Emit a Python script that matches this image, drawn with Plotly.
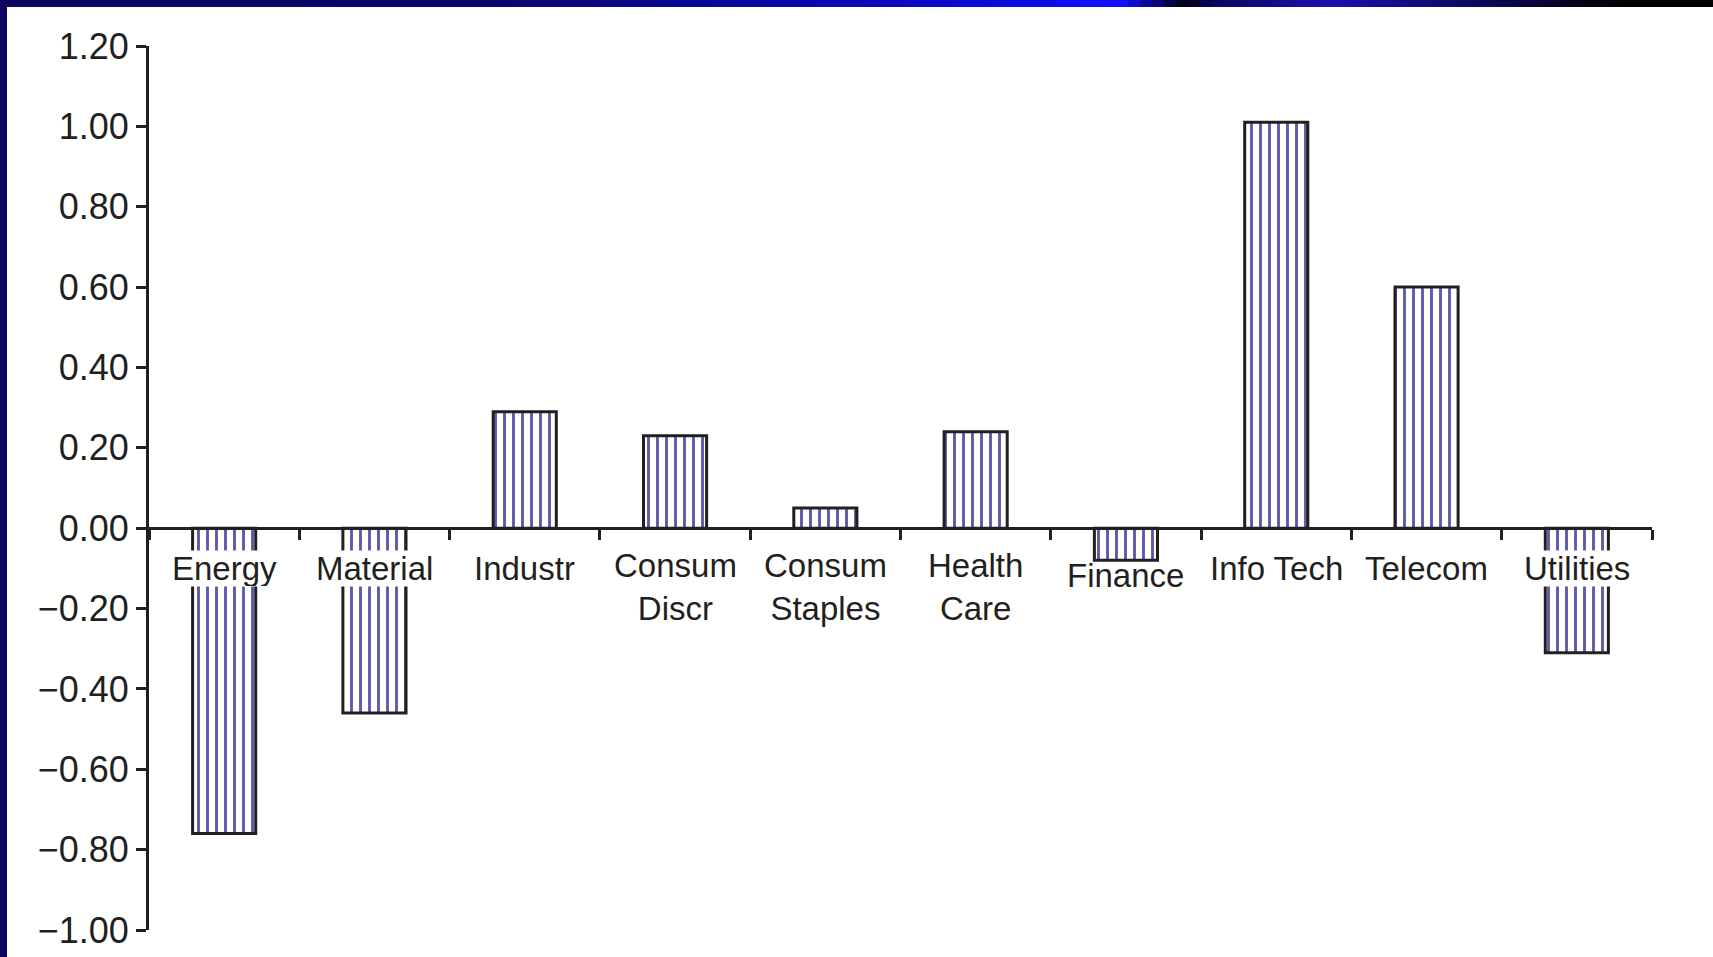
import plotly.graph_objects as go

categories = ["Energy", "Material", "Industr", "Consum<br>Discr", "Consum<br>Staples",
              "Health<br>Care", "Finance", "Info Tech", "Telecom", "Utilities"]
values = [-0.76, -0.46, 0.29, 0.23, 0.05, 0.24, -0.08, 1.01, 0.60, -0.31]
y_ticks = [-1.0, -0.8, -0.6, -0.4, -0.2, 0.0, 0.2, 0.4, 0.6, 0.8, 1.0, 1.2]

W, H = 1713, 957
ML, MR, MT, MB = 149, 61, 46, 27
YMIN, YMAX = -1.0, 1.2
INK = "#231f20"
BAR_BLUE = "#5a5aaa"

fig = go.Figure()
fig.add_trace(go.Bar(
    x=list(range(len(categories))),
    y=values,
    width=0.42,
    marker=dict(
        color="white",
        line=dict(color=INK, width=3),
        pattern=dict(shape="|", fgcolor=BAR_BLUE, bgcolor="white", size=9,
                     solidity=0.32, fgopacity=1),
    ),
    hoverinfo="skip",
))

# category labels as annotations with white background (they overlap bars)
annotations = []
for i, (cat, v) in enumerate(zip(categories, values)):
    two_line = "<br>" in cat
    shift = -18 if two_line else -22
    bg = "white"
    if cat == "Finance":
        shift = -29
        bg = "rgba(0,0,0,0)"
    ann = dict(
        x=i, y=0, xref="x", yref="y", text=cat, showarrow=False,
        yanchor="top", xanchor="center", yshift=shift,
        font=dict(family="Liberation Sans, Arial, sans-serif", size=33, color=INK),
        bgcolor=bg, borderpad=0,
    )
    if not two_line:
        ann["height"] = 35
    annotations.append(ann)

# decorative frame: gradient strip at the top, navy strip at the left
pw = W - ML - MR
ph = H - MT - MB
def px_to_paper_x(px):
    return (px - ML) / pw
def px_to_paper_y(py):
    return 1 - (py - MT) / ph

stops = [(0, (10, 6, 96)), (500, (10, 6, 110)), (900, (10, 8, 190)), (1120, (16, 16, 255)),
         (1185, (0, 0, 20)), (1210, (10, 6, 90)), (1330, (26, 16, 176)),
         (1500, (12, 6, 80)), (1620, (0, 0, 0)), (1713, (0, 0, 0))]
def col_at(x):
    for (x0, c0), (x1, c1) in zip(stops[:-1], stops[1:]):
        if x0 <= x <= x1:
            t = (x - x0) / (x1 - x0) if x1 > x0 else 0
            c = [round(a + (b - a) * t) for a, b in zip(c0, c1)]
            return "rgb(%d,%d,%d)" % tuple(c)
    return "rgb(0,0,0)"

shapes = []
step = 12
for x0 in range(0, W, step):
    x1 = min(W, x0 + step + 1)
    shapes.append(dict(type="rect", xref="paper", yref="paper",
                       x0=px_to_paper_x(x0), x1=px_to_paper_x(x1),
                       y0=px_to_paper_y(7), y1=px_to_paper_y(0),
                       fillcolor=col_at(x0 + step / 2), line=dict(width=0), layer="above"))
shapes.append(dict(type="rect", xref="paper", yref="paper",
                   x0=px_to_paper_x(0), x1=px_to_paper_x(7),
                   y0=px_to_paper_y(H), y1=px_to_paper_y(0),
                   fillcolor="rgb(10,6,96)", line=dict(width=0), layer="above"))

fig.update_layout(
    width=W, height=H,
    margin=dict(l=ML, r=MR, t=MT, b=MB, pad=0, autoexpand=False),
    paper_bgcolor="white", plot_bgcolor="white",
    showlegend=False,
    annotations=annotations,
    shapes=shapes,
    font=dict(family="Liberation Sans, Arial, sans-serif", color=INK),
    xaxis=dict(
        range=[-0.5, len(categories) - 0.5],
        anchor="free",
        position=(0 - YMIN) / (YMAX - YMIN),
        showline=True, linecolor=INK, linewidth=3,
        ticks="outside", ticklen=10, tickwidth=3, tickcolor=INK,
        tickmode="array", tickvals=[i - 0.5 for i in range(len(categories) + 1)],
        showticklabels=False, showgrid=False, zeroline=False, automargin=False,
    ),
    yaxis=dict(
        range=[YMIN, YMAX],
        tickmode="array", tickvals=y_ticks, tickformat=".2f",
        showline=True, linecolor=INK, linewidth=3,
        ticks="outside", ticklen=10, tickwidth=3, tickcolor=INK,
        tickfont=dict(family="Liberation Sans, Arial, sans-serif", size=36, color=INK),
        showgrid=False, zeroline=False, automargin=False,
    ),
)

fig.write_html("out.html", config={"displayModeBar": False})
